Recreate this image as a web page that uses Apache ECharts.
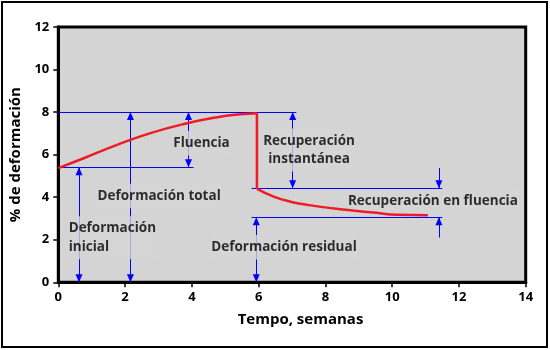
<!DOCTYPE html>
<html>
<head>
<meta charset="utf-8">
<script src="https://cdn.jsdelivr.net/npm/echarts@6/dist/echarts.min.js"></script>
<style>
html,body{margin:0;padding:0;background:#fff;}
#chart{width:550px;height:350px;}
</style>
</head>
<body>
<div id="chart"></div>
<script>
// Axis ticks
const xTicks = [0, 2, 4, 6, 8, 10, 12, 14];
const yTicks = [0, 2, 4, 6, 8, 10, 12];

// Red strain curve: creep under load, instantaneous recovery, creep recovery
const creepCurve = [[0, 5.37], [0.76, 5.83], [1.76, 6.46], [2.76, 7.01], [3.76, 7.44], [4.76, 7.76], [5.46, 7.9], [5.95, 7.95]];
const instantDrop = [[5.95, 7.95], [5.95, 4.39]];
const recoveryCurve = [[5.95, 4.39], [6.45, 4.03], [6.95, 3.79], [7.45, 3.64], [8.45, 3.43], [9.45, 3.28], [10.15, 3.17], [11.07, 3.15]];

// Blue reference lines: [x start, y, x end]
const refLines = [[0, 8, 7.13], [0, 5.41, 4.05], [5.79, 4.42, 11.5], [5.79, 3.06, 11.5]];
// Blue dimension arrows: [x, y from, y to, arrow at start (1/0)]
const dimArrows = [[0.62, 0, 5.41, 1], [2.16, 0, 8, 1], [3.9, 5.41, 8, 1], [7.02, 4.42, 8, 1], [5.93, 0, 3.06, 1], [11.4, 5.37, 4.42, 0], [11.4, 2.1, 3.06, 0]];

// Annotation texts: [x, y, text, align]
const notes = [
  [4.29, 6.54, 'Fluencia', 'center'],
  [7.51, 6.22, 'Recuperación\ninstantánea', 'center'],
  [3.02, 4.06, 'Deformación total', 'center'],
  [0.28, 2.09, 'Deformación\ninicial', 'left'],
  [6.76, 1.65, 'Deformación residual', 'center'],
  [11.22, 3.81, 'Recuperación en fluencia', 'center']
];

const FONT = '"Open Sans", sans-serif';
const BG = '#d4d4d4';

const arrowEnd = { symbol: 'triangle', symbolOffset: [0, 4] };
const markData = [];
refLines.forEach(([x1, y, x2]) => {
  markData.push([{ coord: [x1, y], symbol: 'none' }, { coord: [x2, y], symbol: 'none' }]);
});
dimArrows.forEach(([x, y1, y2, both]) => {
  markData.push([
    Object.assign({ coord: [x, y1] }, both ? arrowEnd : { symbol: 'none' }),
    Object.assign({ coord: [x, y2] }, arrowEnd)
  ]);
});

const chart = echarts.init(document.getElementById('chart'), null, { renderer: 'canvas' });
const redStyle = { color: '#ee1c25', width: 2.5 };
chart.setOption({
  animation: false,
  backgroundColor: '#fff',
  graphic: [{
    type: 'rect', silent: true, z: 100,
    shape: { x: 2, y: 2, width: 545, height: 345 },
    style: { fill: 'none', stroke: '#000', lineWidth: 2 }
  }],
  grid: {
    left: 58.3, right: 24.3, top: 27, bottom: 67.7,
    show: true, backgroundColor: BG, borderColor: '#000', borderWidth: 3
  },
  xAxis: {
    type: 'value', min: xTicks[0], max: xTicks[xTicks.length - 1], interval: 2,
    name: 'Tempo, semanas', nameLocation: 'middle', nameGap: 30,
    nameTextStyle: { fontFamily: FONT, fontWeight: 'bold', fontSize: 15, color: '#000', padding: [0, 0, 0, 17] },
    axisLine: { lineStyle: { color: '#000', width: 3 } },
    axisTick: { show: true, length: 5, lineStyle: { color: '#000', width: 1.5 } },
    axisLabel: { fontFamily: FONT, fontWeight: 'bold', fontSize: 13, color: '#000', margin: 8 },
    splitLine: { show: false }
  },
  yAxis: {
    type: 'value', min: yTicks[0], max: yTicks[yTicks.length - 1], interval: 2,
    name: '% de deformación', nameLocation: 'middle', nameGap: 33,
    nameTextStyle: { fontFamily: FONT, fontWeight: 'bold', fontSize: 15, color: '#000' },
    axisLine: { lineStyle: { color: '#000', width: 3 } },
    axisTick: { show: true, length: 5, lineStyle: { color: '#000', width: 1.5 } },
    axisLabel: { fontFamily: FONT, fontWeight: 'bold', fontSize: 13, color: '#000', margin: 9 },
    splitLine: { show: false }
  },
  series: [
    {
      type: 'line', name: 'refs', data: [], z: 2, silent: true,
      markLine: {
        silent: true, symbolSize: [7, 8], animation: false,
        lineStyle: { color: '#0000ff', width: 1, type: 'solid' },
        label: { show: false },
        emphasis: { disabled: true },
        data: markData
      }
    },
    {
      type: 'scatter', name: 'notes', z: 10, silent: true, symbolSize: 0,
      data: notes.map(n => ({ value: [n[0], n[1]], name: n[2], label: { align: n[3] } })),
      label: {
        show: true, position: 'inside', formatter: '{b}',
        fontFamily: FONT, fontWeight: 'bold', fontSize: 13.5, color: '#000',
        lineHeight: 18.5, backgroundColor: BG, padding: [3, 1]
      }
    },
    { type: 'line', name: 'creep', data: creepCurve, smooth: true, showSymbol: false, lineStyle: redStyle, z: 12, silent: true },
    { type: 'line', name: 'drop', data: instantDrop, showSymbol: false, lineStyle: redStyle, z: 12, silent: true },
    { type: 'line', name: 'recovery', data: recoveryCurve, smooth: true, showSymbol: false, lineStyle: redStyle, z: 12, silent: true }
  ]
});
</script>
</body>
</html>
